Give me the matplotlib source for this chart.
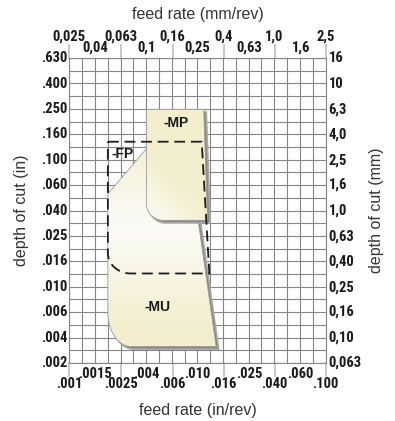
import numpy as np
import matplotlib
matplotlib.use("Agg")
import matplotlib.pyplot as plt
from matplotlib import transforms
from matplotlib.patches import Polygon
from matplotlib.image import AxesImage

# ---- axis ticks -------------------------------------------------------------
feed_mm_labels = ["0,025", "0,04", "0,063", "0,1", "0,16", "0,25", "0,4", "0,63", "1,0", "1,6", "2,5"]
feed_in_labels = [".001", ".0015", ".0025", ".004", ".006", ".010", ".016", ".025", ".040", ".060", ".100"]
depth_mm_labels = ["0,063", "0,10", "0,16", "0,25", "0,40", "0,63", "1,0", "1,6", "2,5", "4,0", "6,3", "10", "16"]
depth_in_labels = [".002", ".004", ".006", ".010", ".016", ".025", ".040", ".060", ".100", ".160", ".250", ".400", ".630"]

# ---- application areas (feed mm/rev, depth of cut mm) ------------------------
mp_feed = [0.10, 0.28, 0.30, 0.10]
mp_depth = [6.3, 6.3, 0.84, 0.84]

mu_feed = [0.05, 0.10, 0.25, 0.255, 0.35, 0.05]
mu_depth = [1.36, 3.08, 3.08, 0.80, 0.085, 0.085]

fp_feed = [0.05, 0.27, 0.31, 0.05]
fp_depth = [3.5, 3.5, 0.32, 0.32]

area_names = ["-MP", "-FP", "-MU"]
name_feed = [0.170, 0.065, 0.123]
name_depth = [4.9, 2.82, 0.174]

W, H, DPI = 395, 421, 100
fig = plt.figure(figsize=(W / DPI, H / DPI), dpi=DPI)
fig.patch.set_facecolor("white")
ax = fig.add_axes([69.3 / W, 1 - 363 / H, 256.2 / W, 305 / H])
ax.set_xscale("log")
ax.set_yscale("log")

feed_pos = [float(s.replace(",", ".")) for s in feed_mm_labels]
depth_pos = [float(s.replace(",", ".")) for s in depth_mm_labels]
x_lo, x_hi = feed_pos[0], feed_pos[-1]
y_lo, y_hi = depth_pos[0], depth_pos[-1]

# grid: ten lines per decade on both axes
grid_c = "#858585"
for gx in np.logspace(np.log10(x_lo), np.log10(x_hi), 21):
    ax.axvline(gx, color=grid_c, lw=0.8, zorder=0.5)
for gy in np.logspace(np.log10(y_lo), np.log10(y_hi), 25):
    ax.axhline(gy, color=grid_c, lw=0.8, zorder=0.5)
for s in ax.spines.values():
    s.set_color(grid_c)
    s.set_linewidth(0.8)
ax.set_xticks([])
ax.set_yticks([])
ax.minorticks_off()
ax.tick_params(which="both", length=0, labelbottom=False, labelleft=False)


def rounded(feed, depth, corners):
    """Polygon vertices in log space, with some corners replaced by quarter ellipses.
    corners: {index: (r_to_prev, r_to_next)} in decades."""
    P = np.column_stack([np.log10(feed), np.log10(depth)])
    n = len(P)
    out = []
    for i in range(n):
        if i not in corners:
            out.append(P[i])
            continue
        rp, rn = corners[i]
        p = P[i]
        dp = P[i - 1] - p
        dn = P[(i + 1) % n] - p
        a = p + dp / np.linalg.norm(dp) * rp
        b = p + dn / np.linalg.norm(dn) * rn
        c = a + b - p
        t = np.linspace(0, np.pi / 2, 24)
        arc = c + np.outer(np.cos(t), a - c) + np.outer(np.sin(t), b - c)
        out.extend(arc)
    out = np.array(out)
    return 10 ** out


cream = np.array([243, 238, 205]) / 255.0
white = np.array([252, 252, 249]) / 255.0


def gradient(weight_fn):
    fx, fy = np.meshgrid(np.linspace(0, 1, 256), np.linspace(0, 1, 256))
    w = np.clip(weight_fn(fx, fy), 0, 1)[..., None]
    return white * (1 - w) + cream * w


def shaded_area(verts, weight_fn, z):
    shadow_tr = transforms.offset_copy(ax.transData, fig=fig, x=2.6, y=-2.6, units="dots")
    ax.add_patch(Polygon(verts, closed=True, facecolor="#8a8a8a", edgecolor="#a8a8a8",
                         lw=1.2, transform=shadow_tr, zorder=z))
    clip = Polygon(verts, closed=True, facecolor="none", edgecolor="#9a9a9a", lw=0.6, zorder=z + 0.2)
    ax.add_patch(clip)
    im = AxesImage(ax, extent=(0, 1, 0, 1), transform=ax.transAxes,
                   interpolation="bilinear", origin="lower")
    im.set_data(gradient(weight_fn))
    im.set_zorder(z + 0.1)
    im.set_clip_path(clip)
    ax.add_image(im)


mu_verts = rounded(mu_feed, mu_depth, {5: (0.18, 0.27)})
shaded_area(mu_verts, lambda fx, fy: 0.05 + 0.95 * np.abs(fy - 0.44) / 0.34, 2)

mp_verts = rounded(mp_feed, mp_depth, {3: (0.13, 0.13)})
shaded_area(mp_verts, lambda fx, fy: 1.5 * (fy - 0.46) / 0.38 + 0.9 * (fx - 0.30) / 0.24, 4)

fp_verts = rounded(fp_feed, fp_depth, {3: (0.18, 0.16)})
ax.add_patch(Polygon(fp_verts, closed=True, fill=False, edgecolor="#1c1c1c", lw=1.3,
                     linestyle=(0, (6.0, 3.2)), zorder=6, joinstyle="miter"))

for name, fx_, fy_ in zip(area_names, name_feed, name_depth):
    ax.text(fx_, fy_, name, ha="center", va="center", fontsize=10, fontweight="bold",
            family=["Liberation Sans", "DejaVu Sans"], color="#1a1a1a", zorder=7)

ax.set_xlim(x_lo, x_hi)
ax.set_ylim(y_lo, y_hi)

# ---- tick labels --------------------------------------------------------------
tick_font = dict(family=["Roboto Condensed", "DejaVu Sans"], fontstretch="condensed",
                 fontweight="bold", fontsize=10.5, color="#1a1a1a")
bx = transforms.blended_transform_factory(ax.transData, ax.transAxes)
by = transforms.blended_transform_factory(ax.transAxes, ax.transData)


def shifted(tr, dx=0, dy=0):
    return transforms.offset_copy(tr, fig=fig, x=dx, y=dy, units="dots")


for i, (xv, lab_in, lab_mm) in enumerate(zip(feed_pos, feed_in_labels, feed_mm_labels)):
    far = i % 2 == 0
    ax.text(xv, 0, lab_in, transform=shifted(bx, dy=-20.5 if far else -10.5),
            ha="center", va="center", **tick_font)
    ax.text(xv, 1, lab_mm, transform=shifted(bx, dy=21.5 if far else 10),
            ha="center", va="center", **tick_font)
    if far:
        ax.plot([xv, xv], [0, -0.042], transform=bx, clip_on=False, color="#c4c4c4", lw=1.3, zorder=0.4)
        ax.plot([xv, xv], [1, 1.042], transform=bx, clip_on=False, color="#c4c4c4", lw=1.3, zorder=0.4)

for yv, lab_in, lab_mm in zip(depth_pos, depth_in_labels, depth_mm_labels):
    ax.text(0, yv, lab_in, transform=shifted(by, dx=-2.0), ha="right", va="center", **tick_font)
    ax.text(1, yv, lab_mm, transform=shifted(by, dx=3.0), ha="left", va="center", **tick_font)

title_font = dict(family=["Liberation Sans", "DejaVu Sans"], fontsize=11.5, color="#333333")
fig.text(0.5 * (69.3 + 325.5) / W, 1 - 15 / H, "feed rate (mm/rev)", ha="center", va="center", **title_font)
fig.text(0.5 * (69.3 + 325.5) / W, 1 - 410 / H, "feed rate (in/rev)", ha="center", va="center", **title_font)
fig.text(22 / W, 1 - 210 / H, "depth of cut (in)", rotation=90, ha="center", va="center", **title_font)
fig.text(376 / W, 1 - 210 / H, "depth of cut (mm)", rotation=90, ha="center", va="center", **title_font)

fig.savefig("out.png", dpi=DPI, facecolor="white")
